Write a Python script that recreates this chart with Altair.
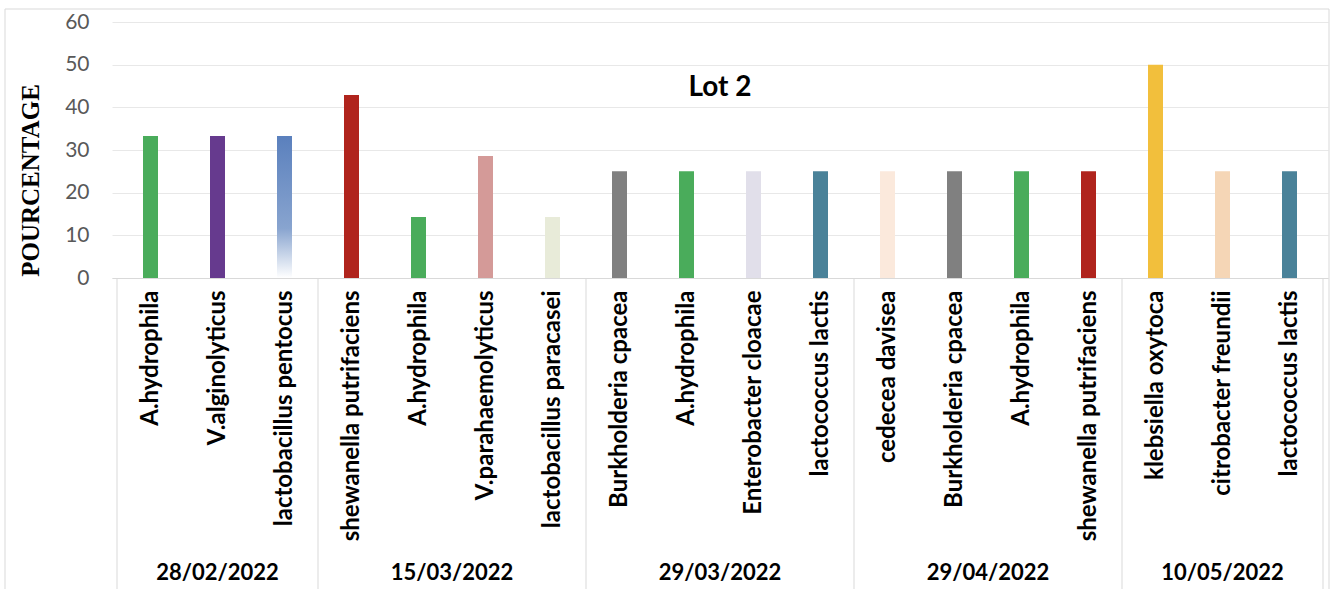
import altair as alt
import pandas as pd

names = ["A.hydrophila", "V.alginolyticus", "lactobacillus pentocus",
         "shewanella putrifaciens", "A.hydrophila", "V.parahaemolyticus", "lactobacillus paracasei",
         "Burkholderia cpacea", "A.hydrophila", "Enterobacter cloacae", "lactococcus lactis",
         "cedecea davisea", "Burkholderia cpacea", "A.hydrophila", "shewanella putrifaciens",
         "klebsiella oxytoca", "citrobacter freundii", "lactococcus lactis"]
values = [33.3, 33.3, 33.3,
          42.9, 14.3, 28.6, 14.3,
          25, 25, 25, 25,
          25, 25, 25, 25,
          50, 25, 25]
colors = ["#4aac5b", "#663a8e", "gradient",
          "#b0241d", "#4aac5b", "#d49a98", "#e8ebd9",
          "#808080", "#4aac5b", "#e1dfea", "#4a8299",
          "#fbe9dc", "#808080", "#4aac5b", "#b0241d",
          "#f2bf3c", "#f5d6b6", "#4a8299"]
dates = ["28/02/2022", "15/03/2022", "29/03/2022", "29/04/2022", "10/05/2022"]
group_sizes = [3, 4, 4, 4, 3]

W, H = 1216, 256

df = pd.DataFrame({"pos": [i + 0.5 for i in range(len(names))],
                   "name": names, "value": values, "color": colors})

bounds = [0]
for s in group_sizes:
    bounds.append(bounds[-1] + s)
centers = [(bounds[i] + bounds[i + 1]) / 2 for i in range(len(group_sizes))]
df_sep = pd.DataFrame({"x": bounds})
df_grp = pd.DataFrame({"c": centers, "date": dates})

label_arr = "[" + ",".join("'" + n + "'" for n in names) + "]"

xscale = alt.Scale(domain=[0, len(names)], nice=False, zero=False)
yscale = alt.Scale(domain=[0, 60], nice=False)

x_enc = alt.X("pos:Q", scale=xscale,
              axis=alt.Axis(values=[i + 0.5 for i in range(len(names))],
                            labelExpr=label_arr + "[floor(datum.value)]",
                            labelAngle=-90, labelAlign="right", labelBaseline="middle",
                            labelFont="Lato", labelFontWeight="bold", labelFontSize=24,
                            labelColor="#000000", labelPadding=12, labelLimit=1000,
                            labelOverlap=False, labelFlush=False, labelBound=False,
                            ticks=False, grid=False, domain=True, domainColor="#d9d9d9",
                            title=None))
y_enc = alt.Y("value:Q", scale=yscale,
              axis=alt.Axis(values=[0, 10, 20, 30, 40, 50, 60], grid=True, gridColor="#e8e8e8",
                            domain=False, ticks=False, labelFont="Lato", labelFontSize=21,
                            labelColor="#595959", labelPadding=23,
                            title="POURCENTAGE", titleFont="Liberation Serif",
                            titleFontWeight="bold", titleFontSize=25, titleColor="#000000",
                            titleAngle=-90, titleX=-82, titleY=158,
                            titleAlign="center", titleBaseline="middle"))

base = alt.Chart(df)

bars = base.transform_filter("datum.color != 'gradient'").mark_bar(size=15).encode(
    x=x_enc, y=y_enc, color=alt.Color("color:N", scale=None))

grad = base.transform_filter("datum.color == 'gradient'").mark_bar(
    size=15,
    color=alt.Gradient(gradient="linear", x1=0, x2=0, y1=0, y2=1,
                       stops=[alt.GradientStop(color="#5a80bd", offset=0),
                              alt.GradientStop(color="#88a4cf", offset=0.65),
                              alt.GradientStop(color="#ffffff", offset=1)])
).encode(x=alt.X("pos:Q", scale=xscale), y=alt.Y("value:Q", scale=yscale))

seps = alt.Chart(df_sep).mark_rule(color="#d9d9d9", strokeWidth=1).encode(
    x=alt.X("x:Q", scale=xscale), y=alt.value(H), y2=alt.value(567))

grp = alt.Chart(df_grp).mark_text(font="Lato", fontWeight="bold", fontSize=22,
                                  baseline="alphabetic", align="center", color="#000000").encode(
    x=alt.X("c:Q", scale=xscale), y=alt.value(558), text="date:N")

title = alt.Chart(pd.DataFrame({"t": ["Lot 2"]})).mark_text(
    font="Lato", fontWeight="bold", fontSize=28, baseline="middle", align="center",
    color="#000000").encode(x=alt.value(W / 2), y=alt.value(66), text="t:N")

border = alt.Chart(pd.DataFrame({"a": [0]})).mark_rect(
    fillOpacity=0, stroke="#d9d9d9", strokeWidth=1).encode(
    x=alt.value(-107), x2=alt.value(1217), y=alt.value(-13), y2=alt.value(572))

chart = alt.layer(border, seps, bars, grad, grp, title).properties(
    width=W, height=H,
    autosize=alt.AutoSizeParams(type="none"),
    padding={"left": 112, "top": 22, "right": 7, "bottom": 311},
    background="white"
).configure_view(stroke=None)

chart.save("out.html", embed_options={"renderer": "svg", "actions": False})
